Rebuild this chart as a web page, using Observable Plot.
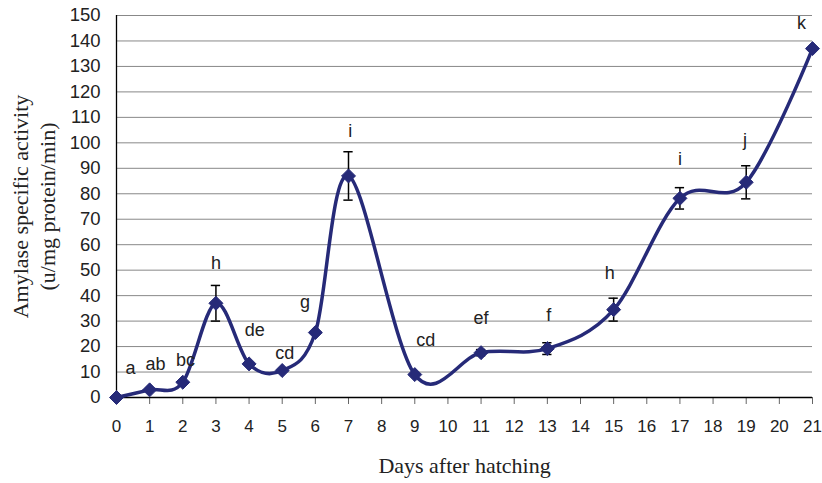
<!DOCTYPE html>
<html>
<head>
<meta charset="utf-8">
<script src="https://cdn.jsdelivr.net/npm/d3@7"></script>
<script src="https://cdn.jsdelivr.net/npm/@observablehq/plot@0.6"></script>
<style>
  html, body { margin: 0; padding: 0; background: #fff; }
  #chart svg { display: block; }
</style>
</head>
<body>
<div id="chart"></div>
<script>
// Data
const days = [0, 1, 2, 3, 4, 5, 6, 7, 9, 11, 13, 15, 17, 19, 21];
const activity = [0, 3, 6, 37, 13.2, 10.6, 25.5, 87, 9, 17.6, 19.2, 34.5, 78.2, 84.5, 137];
const errorDays = [3, 7, 11, 13, 15, 17, 19];
const errorMeans = [37, 87, 17.6, 19.2, 34.5, 78.2, 84.5];
const errorSizes = [7, 9.5, 1.2, 2.3, 4.5, 4.2, 6.5];
// Significance letters and their anchor positions in data space
const letters = ["a", "ab", "bc", "h", "de", "cd", "g", "i", "cd", "ef", "f", "h", "i", "j", "k"];
const letterDays = [0.42, 1.18, 2.08, 3.0, 4.17, 5.08, 5.69, 7.05, 9.33, 11.0, 13.04, 14.88, 17.0, 18.96, 20.67];
const letterValues = [11.4, 13.2, 14.8, 52.6, 26.3, 17.4, 37.4, 104.4, 22.4, 31, 32.2, 48.7, 93.4, 100.9, 146.9];
const xTicks = d3.range(0, 22);
const yTicks = d3.range(0, 151, 10);
const xLabel = "Days after hatching";
const yLabelLines = ["Amylase specific activity", "(u/mg protein/min)"];

const points = days.map((d, i) => ({day: d, value: activity[i]}));
const errors = errorDays.map((d, i) => ({day: d, lo: errorMeans[i] - errorSizes[i], hi: errorMeans[i] + errorSizes[i]}));
const labels = letters.map((t, i) => ({t, x: letterDays[i], y: letterValues[i]}));

const navy = "#262a78";
const capHalf = 0.14;
const serif = "'Liberation Serif', 'Times New Roman', serif";

const chart = Plot.plot({
  width: 822,
  height: 483,
  marginLeft: 116,
  marginRight: 10,
  marginTop: 15,
  marginBottom: 86,
  style: {fontFamily: "'Liberation Sans', Arial, sans-serif", background: "#fff"},
  x: {domain: [0, 21], ticks: xTicks},
  y: {domain: [0, 150], ticks: yTicks},
  marks: [
    Plot.gridY({ticks: yTicks.filter(v => v > 0), stroke: "#888", strokeOpacity: 1, strokeWidth: 1}),
    Plot.axisY({ticks: yTicks, tickSize: 0, tickPadding: 16, fontSize: 18.5, fill: "#222", label: null}),
    Plot.axisX({ticks: xTicks, tickSize: 7, tickPadding: 15, fontSize: 17, fill: "#222", stroke: "#666", label: null, tickFormat: d => String(d)}),
    Plot.ruleX([0], {stroke: "#000", strokeWidth: 1.3}),
    Plot.ruleY([0], {stroke: "#000", strokeWidth: 1.3}),
    Plot.ruleX(errors, {x: "day", y1: "lo", y2: "hi", stroke: "#000", strokeWidth: 1.5}),
    Plot.ruleY(errors, {y: "lo", x1: d => d.day - capHalf, x2: d => d.day + capHalf, stroke: "#000", strokeWidth: 1.5}),
    Plot.ruleY(errors, {y: "hi", x1: d => d.day - capHalf, x2: d => d.day + capHalf, stroke: "#000", strokeWidth: 1.5}),
    Plot.line(points, {x: "day", y: "value", curve: d3.curveCatmullRom.alpha(0), stroke: navy, strokeWidth: 3.5}),
    Plot.dot(points, {x: "day", y: "value", symbol: "diamond2", r: 6.3, fill: navy, stroke: navy, strokeWidth: 1}),
    Plot.text(labels, {x: "x", y: "y", text: "t", fontSize: 18, fill: "#222"}),
    Plot.text([xLabel], {frameAnchor: "bottom", dy: 75, fontSize: 22, fontFamily: serif, fill: "#222"}),
    Plot.text([yLabelLines[0]], {frameAnchor: "left", textAnchor: "middle", dx: -96, rotate: -90, fontSize: 22, fontFamily: serif, fill: "#222"}),
    Plot.text([yLabelLines[1]], {frameAnchor: "left", textAnchor: "middle", dx: -69, rotate: -90, fontSize: 22, fontFamily: serif, fill: "#222"})
  ]
});
document.getElementById("chart").appendChild(chart);
</script>
</body>
</html>
